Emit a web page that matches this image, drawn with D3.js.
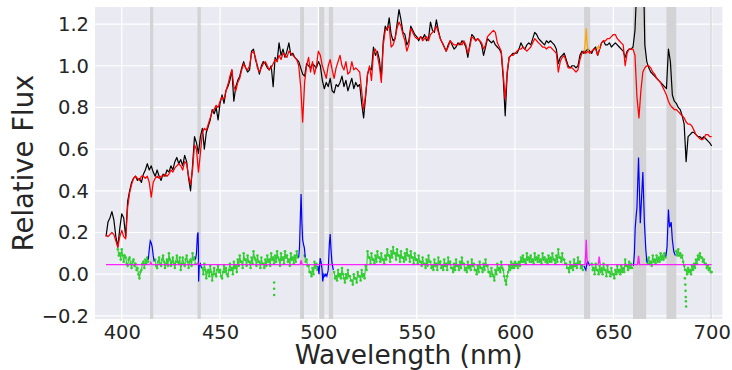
<!DOCTYPE html>
<html><head><meta charset="utf-8">
<script src="https://cdn.jsdelivr.net/npm/d3@7"></script>
<style>
body{margin:0;background:#fff;}
svg{display:block;font-family:"DejaVu Sans",sans-serif;}
</style>
</head><body>
<svg id="chart" width="732" height="370"></svg>
<script>
// Spectrum sampled on a 1 nm grid starting at waveStart
const waveStart = 392;
const observedFlux = [
0.18,0.25,0.27,0.30,0.26,0.18,0.13,0.22,0.29,
0.27,0.18,0.35,0.40,0.44,0.46,0.47,0.45,0.46,0.44,
0.48,0.50,0.53,0.50,0.52,0.49,0.47,0.50,0.47,0.45,
0.48,0.47,0.50,0.49,0.52,0.50,0.54,0.56,0.53,0.55,
0.52,0.57,0.54,0.46,0.40,0.52,0.66,0.63,0.58,0.66,
0.70,0.60,0.68,0.71,0.74,0.79,0.77,0.80,0.74,0.82,
0.86,0.82,0.88,0.90,0.93,0.98,0.83,0.90,0.93,0.95,
0.99,1.02,0.99,0.97,0.98,1.07,1.08,1.03,1.00,0.96,
1.00,1.02,1.01,0.99,0.98,1.00,0.90,1.04,1.02,1.11,
1.05,1.08,1.04,1.07,1.11,1.05,1.06,1.04,1.03,1.02,
0.99,0.96,0.95,1.01,1.00,0.99,1.01,1.00,0.99,1.02,
1.00,0.93,0.89,0.92,0.90,0.94,0.88,0.87,0.91,0.90,
0.92,0.95,0.90,0.93,0.88,0.91,0.94,0.89,0.92,0.90,
0.91,0.82,0.75,0.85,0.96,0.99,0.98,1.09,1.05,1.07,
1.03,0.94,1.12,1.19,1.17,1.23,1.15,1.12,1.13,1.20,
1.27,1.22,1.16,1.15,1.10,1.12,1.19,1.17,1.15,1.14,
1.12,1.14,1.13,1.15,1.12,1.13,1.21,1.17,1.16,1.22,
1.17,1.13,1.11,1.09,1.07,1.10,1.12,1.10,1.08,1.09,
1.11,1.10,1.12,1.11,1.09,1.04,1.10,1.15,1.14,1.12,
1.13,1.12,1.10,1.05,1.09,1.13,1.12,1.11,1.12,1.10,
1.09,1.08,1.06,0.94,0.76,0.96,1.04,1.05,1.06,1.06,
1.06,1.08,1.11,1.09,1.08,1.10,1.11,1.10,1.13,1.16,
1.15,1.13,1.12,1.11,1.10,1.12,1.11,1.12,1.11,1.10,
1.08,1.01,1.04,1.05,1.06,1.03,1.00,0.99,1.00,1.00,
0.99,1.00,1.05,1.07,1.06,1.07,1.08,1.07,1.06,1.08,
1.09,1.05,1.08,1.11,1.12,1.10,1.10,1.11,1.09,1.10,
1.11,1.10,1.09,1.08,1.07,1.04,1.07,1.08,1.08,1.09,
1.17,1.40,1.70,1.35,1.60,1.10,1.02,0.99,0.97,0.96,
0.95,0.94,0.93,0.92,0.91,0.90,0.89,1.08,1.02,0.86,
0.83,0.82,0.80,0.79,0.76,0.72,0.54,0.66,0.67,0.68,
0.68,0.67,0.66,0.66,0.65,0.66,0.65,0.64,0.63,0.615
];
const modelFlux = [
0.19,0.18,0.19,0.20,0.19,0.16,0.13,0.18,0.21,
0.18,0.17,0.32,0.39,0.43,0.46,0.47,0.46,0.45,0.47,
0.47,0.46,0.47,0.44,0.37,0.44,0.46,0.47,0.46,0.47,
0.47,0.48,0.47,0.48,0.50,0.49,0.51,0.52,0.53,0.52,
0.50,0.54,0.53,0.47,0.43,0.50,0.62,0.60,0.49,0.58,
0.68,0.70,0.69,0.72,0.75,0.78,0.79,0.81,0.80,0.83,
0.85,0.84,0.88,0.91,0.95,0.98,0.90,0.88,0.92,0.94,
0.98,1.01,0.99,0.98,1.00,1.06,1.07,1.04,0.99,0.97,
0.99,1.01,1.02,1.00,0.98,0.99,1.01,1.03,1.02,1.05,
1.03,1.06,1.05,1.04,1.07,1.06,1.05,1.04,1.03,1.00,
0.90,0.73,0.92,1.00,1.04,0.97,1.02,0.96,1.00,1.07,
1.05,1.00,0.97,0.94,1.00,1.03,0.98,0.94,0.99,1.02,
1.05,1.00,0.98,1.02,0.96,0.97,1.02,0.98,0.99,0.98,
0.97,0.88,0.79,0.86,0.96,1.00,0.93,1.06,1.08,1.05,
1.00,0.92,1.10,1.17,1.18,1.19,1.09,1.10,1.13,1.18,
1.21,1.19,1.15,1.12,1.07,1.10,1.18,1.16,1.14,1.13,
1.13,1.14,1.12,1.13,1.14,1.12,1.15,1.16,1.17,1.19,
1.16,1.13,1.11,1.09,1.07,1.09,1.12,1.11,1.10,1.10,
1.10,1.11,1.10,1.12,1.10,1.06,1.09,1.14,1.13,1.12,
1.13,1.12,1.11,1.08,1.10,1.14,1.15,1.16,1.17,1.16,
1.11,1.09,1.07,0.96,0.84,0.97,1.04,1.05,1.05,1.06,
1.07,1.08,1.08,1.09,1.08,1.07,1.08,1.09,1.11,1.13,
1.12,1.11,1.10,1.09,1.09,1.08,1.09,1.09,1.08,1.07,
1.06,0.97,1.02,1.04,1.05,1.02,0.99,0.99,0.99,0.98,
0.97,0.98,1.03,1.06,1.07,1.06,1.07,1.06,1.07,1.08,
1.08,1.05,1.08,1.11,1.12,1.12,1.13,1.13,1.14,1.15,
1.15,1.13,1.12,1.11,1.10,1.00,1.06,1.08,1.08,1.08,
1.05,0.85,0.75,0.88,0.97,0.99,1.00,1.00,0.99,0.97,
0.96,0.94,0.93,0.92,0.90,0.88,0.86,0.83,0.81,0.80,
0.79,0.79,0.78,0.77,0.76,0.75,0.73,0.72,0.72,0.71,
0.69,0.67,0.66,0.65,0.645,0.65,0.67,0.67,0.66,0.66
];

// Residual (observed - model + offset) on a 0.5 nm grid from residStart; null = masked window
const residStart = 398;
const residStep = 0.5;
const residualFlux = [
0.12,0.09,0.10,0.07,0.12,0.09,0.06,0.09,0.08,0.05,
0.04,0.07,0.08,0.05,0.03,0.06,0.07,0.04,0.05,0.02,
0.03,0.00,-0.02,0.01,0.02,0.05,0.06,0.03,0.07,0.05,
0.08,0.06,null,null,null,null,null,null,0.07,0.04,
0.03,0.06,0.08,0.05,0.04,0.07,0.09,0.06,0.03,0.05,
0.07,0.04,0.10,0.07,0.04,0.06,0.08,0.05,0.03,0.06,
0.09,0.06,0.05,0.08,0.02,0.05,0.08,0.05,0.04,0.07,
0.09,0.06,0.03,0.06,0.07,0.04,0.10,0.07,0.08,0.05,
null,null,null,null,null,null,0.03,0.00,0.05,0.02,
-0.02,0.01,0.02,-0.01,0.04,0.01,-0.03,0.00,0.03,0.00,
-0.01,0.02,0.04,0.01,0.02,-0.01,-0.02,0.01,0.04,0.01,
0.03,0.00,-0.01,0.02,0.05,0.02,0.03,0.00,0.06,0.03,
0.04,0.01,0.07,0.04,0.09,0.06,0.06,0.03,0.10,0.07,
0.07,0.04,0.09,0.06,0.06,0.03,0.08,0.05,0.11,0.08,
0.07,0.04,0.09,0.06,0.06,0.03,0.08,0.05,0.05,0.03,
0.07,0.04,0.09,0.06,0.07,0.04,0.10,0.07,0.08,0.05,
0.09,0.06,0.11,0.08,0.07,0.04,0.10,0.07,0.08,0.05,
0.11,0.08,0.09,0.06,0.07,0.04,0.10,0.07,0.08,0.05,
0.09,0.06,0.11,0.08,null,null,null,null,null,null,
0.09,0.06,0.07,0.04,0.04,0.01,0.01,-0.01,0.03,0.00,
0.06,0.03,0.05,0.02,null,null,null,null,null,null,
null,null,null,null,null,null,null,null,null,null,
0.01,-0.02,-0.01,-0.03,0.02,-0.01,0.00,-0.02,0.03,0.00,
-0.02,-0.04,0.00,-0.02,0.02,-0.01,-0.01,-0.03,-0.03,-0.05,
0.00,-0.02,-0.02,-0.04,0.01,-0.01,-0.01,-0.03,0.02,-0.01,
0.00,-0.02,0.04,0.02,0.11,0.08,0.08,0.05,0.10,0.07,
0.07,0.05,0.09,0.06,0.11,0.08,0.08,0.06,0.10,0.07,
0.07,0.05,0.09,0.07,0.12,0.09,0.09,0.06,0.11,0.08,
0.13,0.10,0.10,0.07,0.12,0.09,0.09,0.06,0.11,0.08,
0.08,0.06,0.10,0.07,0.12,0.09,0.09,0.06,0.11,0.08,
0.08,0.05,0.10,0.07,0.07,0.05,0.09,0.06,0.06,0.04,
0.08,0.05,0.05,0.03,0.07,0.04,0.09,0.06,0.06,0.03,
0.04,0.02,0.07,0.04,0.05,0.02,0.08,0.05,0.06,0.03,
0.04,0.02,0.07,0.04,0.05,0.02,0.08,0.05,0.06,0.03,
0.03,0.01,0.05,0.02,0.07,0.04,0.04,0.02,0.06,0.03,
0.08,0.05,0.05,0.02,0.03,0.01,0.06,0.03,0.04,0.02,
0.07,0.04,0.05,0.02,0.02,0.00,0.04,0.01,0.06,0.03,
0.03,0.01,0.05,0.02,0.07,0.04,0.04,0.01,0.01,-0.01,
0.03,0.00,-0.01,-0.03,0.02,0.00,0.05,0.02,0.03,0.01,
0.06,0.03,0.02,-0.01,-0.03,-0.05,-0.01,0.01,0.04,0.02,
0.06,0.03,0.05,0.03,0.06,0.04,0.05,0.03,0.06,0.04,
0.08,0.06,0.09,0.06,0.07,0.05,0.10,0.07,0.08,0.06,
0.09,0.06,0.07,0.05,0.10,0.07,0.08,0.06,0.09,0.06,
0.07,0.05,0.10,0.07,0.08,0.06,0.07,0.05,0.09,0.06,
0.08,0.06,0.10,0.07,0.07,0.05,0.09,0.06,0.12,0.08,
0.08,0.06,0.10,0.07,0.07,0.05,0.05,0.03,0.03,0.01,
0.06,0.03,0.04,0.02,0.07,0.04,0.05,0.03,0.08,0.05,
0.06,0.03,0.04,0.02,null,null,null,null,null,null,
null,null,0.05,0.02,0.03,0.00,0.05,0.02,0.02,0.00,
0.04,0.01,0.03,0.00,0.05,0.02,0.02,-0.01,0.04,0.01,
0.01,-0.01,0.03,0.00,0.00,-0.02,0.02,0.00,0.04,0.01,
0.02,0.00,0.04,0.01,0.03,0.01,0.07,0.04,0.04,0.02,
0.06,0.03,0.05,0.03,null,null,null,null,null,null,
null,null,null,null,null,null,null,null,0.07,0.05,
0.08,0.05,0.06,0.04,0.09,0.06,0.07,0.05,0.09,0.06,
0.08,0.06,0.10,0.07,0.09,0.07,0.10,0.08,null,null,
null,null,null,null,null,null,null,null,0.11,0.09,
0.12,0.09,0.10,0.08,0.09,0.06,0.04,0.02,0.02,0.00,
0.03,0.01,0.02,0.00,0.04,0.02,0.05,0.03,0.07,0.05,
0.09,0.07,0.10,0.08,0.08,0.06,0.07,0.05,0.05,0.03,
0.04,0.02,0.03,0.01,0.01
];
// isolated residual outliers
const outlierWave = [477.5,477.5,477.5,686.4,686.6,686.7,686.8,686.9,687.0];
const outlierFlux = [-0.04,-0.07,-0.10,-0.02,-0.05,-0.08,-0.11,-0.13,-0.155];

// Residual inside the masked emission windows (null separates windows)
const lineWave = [
413.5,414,414.5,415,415.5,416,416.5,null,
437.5,438,438.5,438.8,439,439.1,439.4,440,440.5,null,
490,490.4,490.9,491.2,491.6,492,492.5,492.9,493.3,null,
499.8,500.3,500.9,501.4,501.9,502.2,502.8,503.3,503.8,504.3,505,505.6,506,506.4,506.9,507.6,null,
635,635.5,636,636.5,637,637.5,638,null,
660.2,660.7,661.1,661.6,662,662.8,663.7,665,665.8,666.5,667.1,null,
676.7,677.3,678,678.6,679.4,680,680.7,681.5
];
const lineResid = [
0.07,0.12,0.16,0.15,0.13,0.09,0.06,null,
0.07,0.10,0.19,0.20,0.12,-0.035,0.04,0.05,0.03,null,
0.08,0.13,0.30,0.385,0.25,0.165,0.14,0.125,0.08,null,
0.04,0.0,0.077,0.055,0.02,-0.035,0.0,-0.01,0.0,-0.01,0.02,0.15,0.193,0.12,0.055,0.02,null,
0.04,0.03,0.02,0.05,0.06,0.05,0.04,null,
0.04,0.10,0.22,0.28,0.32,0.56,0.245,0.49,0.245,0.117,0.055,null,
0.085,0.13,0.31,0.225,0.25,0.165,0.11,0.09
];

// Fitted emission-line profile on the residual baseline
const emisWave = [392,414.3,414.8,415.3,438.3,438.8,439.3,490.7,491.2,491.7,635.6,635.9,636.2,636.5,636.8,642.3,642.8,643.3,662.3,662.8,663.3,700];
const emisFlux = [0.046,0.046,0.056,0.046,0.046,0.055,0.046,0.046,0.066,0.046,0.046,0.09,0.165,0.09,0.046,0.046,0.085,0.046,0.046,0.088,0.046,0.046];

// Model plus emission where it rises above the continuum model
const modelEmisWave = [635.2,635.7,636.2,636.7,637.3,null,641.8,642.4,643.0];
const modelEmisFlux = [1.07,1.11,1.18,1.10,1.07,null,1.08,1.095,1.08];

// Masked wavelength windows
const maskStart = [414.4,438.5,490.7,500.4,505.3,635.1,660.0,677.0,699.4];
const maskEnd   = [416.0,440.2,492.7,503.0,507.5,638.2,666.7,682.0,700.0];

const xTicks = [400,450,500,550,600,650,700];
const yTicks = [-0.2,0.0,0.2,0.4,0.6,0.8,1.0,1.2];
const xLabel = "Wavelength (nm)";
const yLabel = "Relative Flux";

const svg = d3.select("#chart");
const L = 95, R = 722.3, T = 7, B = 319;
const x = d3.scaleLinear().domain([386.4, 705.4]).range([L, R]);
const y = d3.scaleLinear().domain([-0.215, 1.282]).range([B, T]);

svg.append("defs").append("clipPath").attr("id", "plotclip")
  .append("rect").attr("x", L).attr("y", T).attr("width", R - L).attr("height", B - T);

svg.append("rect").attr("x", L).attr("y", T).attr("width", R - L).attr("height", B - T)
  .attr("fill", "#eaeaf2");

// grid
const grid = svg.append("g");
grid.selectAll(".gx").data(xTicks).join("line")
  .attr("x1", d => x(d)).attr("x2", d => x(d)).attr("y1", T).attr("y2", B)
  .attr("stroke", "#fff").attr("stroke-width", 1.2);
grid.selectAll(".gy").data(yTicks).join("line")
  .attr("x1", L).attr("x2", R).attr("y1", d => y(d)).attr("y2", d => y(d))
  .attr("stroke", "#fff").attr("stroke-width", 1.2);

const plot = svg.append("g").attr("clip-path", "url(#plotclip)");

// masked windows
plot.selectAll(".mask").data(maskStart).join("rect")
  .attr("x", d => x(d)).attr("width", (d, i) => x(maskEnd[i]) - x(d))
  .attr("y", T).attr("height", B - T).attr("fill", "#d3d3d5");

const waveObs = observedFlux.map((_, i) => waveStart + i);
const line = d3.line().defined(d => d[1] != null).x(d => x(d[0])).y(d => y(d[1]));

plot.append("path").datum(waveObs.map((w, i) => [w, observedFlux[i]]))
  .attr("d", line).attr("fill", "none").attr("stroke", "#000").attr("stroke-width", 1.2)
  .attr("stroke-linejoin", "round");
plot.append("path").datum(waveObs.map((w, i) => [w, modelFlux[i]]))
  .attr("d", line).attr("fill", "none").attr("stroke", "#ff0000").attr("stroke-width", 1.25)
  .attr("stroke-linejoin", "round");
plot.append("path").datum(modelEmisWave.map((w, i) => [w, modelEmisFlux[i]]))
  .attr("d", line).attr("fill", "none").attr("stroke", "#ffa500").attr("stroke-width", 1.3);

// residual scatter: dense points, joined so neighbouring samples read as one band
const residPts = residualFlux.map((v, i) => [residStart + i * residStep, v]);
plot.append("path").datum(residPts)
  .attr("d", line).attr("fill", "none").attr("stroke", "#32cd32").attr("stroke-width", 1.1);
const resid = residPts.filter(d => d[1] != null)
  .concat(outlierWave.map((w, i) => [w, outlierFlux[i]]));
plot.selectAll(".res").data(resid).join("circle")
  .attr("cx", d => x(d[0])).attr("cy", d => y(d[1])).attr("r", 1.3)
  .attr("fill", "#32cd32");

plot.append("path").datum(lineWave.map((w, i) => [w, lineResid[i]]))
  .attr("d", line).attr("fill", "none").attr("stroke", "#0000ff").attr("stroke-width", 1.2);
plot.append("path").datum(emisWave.map((w, i) => [w, emisFlux[i]]))
  .attr("d", line).attr("fill", "none").attr("stroke", "#ff00ff").attr("stroke-width", 1.4)
  .attr("stroke-opacity", 0.85);

// axes
const xAxis = svg.append("g").attr("transform", `translate(0,${B})`)
  .call(d3.axisBottom(x).tickValues(xTicks).tickSize(0).tickPadding(6).tickFormat(d3.format("d")));
const yAxis = svg.append("g").attr("transform", `translate(${L},0)`)
  .call(d3.axisLeft(y).tickValues(yTicks).tickSize(0).tickPadding(6)
    .tickFormat(d => d3.format(".1f")(d).replace("-", "\u2212")));
[xAxis, yAxis].forEach(a => {
  a.select(".domain").remove();
  a.selectAll("text").attr("font-family", "DejaVu Sans").attr("font-size", 19.5).attr("fill", "#262626");
});

svg.append("text").attr("x", (L + R) / 2).attr("y", 364).attr("text-anchor", "middle")
  .attr("font-size", 26.4).attr("fill", "#262626").text(xLabel);
svg.append("text").attr("transform", `translate(33,${(T + B) / 2}) rotate(-90)`)
  .attr("text-anchor", "middle").attr("font-size", 27.5).attr("fill", "#262626").text(yLabel);
</script>
</body></html>
